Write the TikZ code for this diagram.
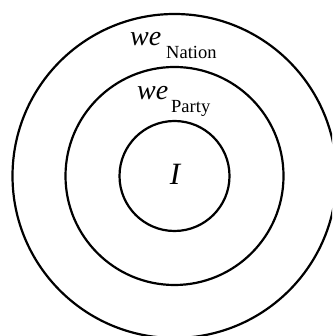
\documentclass[tikz,border=0pt]{standalone}
\usepackage{fontspec}
\setmainfont{Liberation Serif}
\begin{document}
\begin{tikzpicture}[x=1pt,y=1pt,
  ring/.style={line width=2.2pt,draw=black},
  bigit/.style={inner sep=0pt,font=\fontsize{28}{30}\selectfont\itshape},
  subtxt/.style={inner sep=0pt,font=\fontsize{18.5}{20}\selectfont}]
\useasboundingbox (0,0) rectangle (332,336);
\begin{scope}
\clip (0,0) rectangle (332,336);
\coordinate (c) at (174.5,160);
\draw[ring] (c) circle[radius=162];
\draw[ring] (c) circle[radius=109];
\draw[ring] (c) circle[radius=55];
\end{scope}
\node[bigit,anchor=base west] (weN) at (130,290.5) {we};
\node[subtxt,anchor=base west] (nation) at (166,277) {Nation};
\node[bigit,anchor=base west] (weP) at (137,236) {we};
\node[subtxt,anchor=base west] (party) at (171,223) {Party};
\node[inner sep=0pt,font=\fontsize{31}{33}\selectfont\itshape,anchor=base] (I) at (175,151) {I};
\end{tikzpicture}
\end{document}
